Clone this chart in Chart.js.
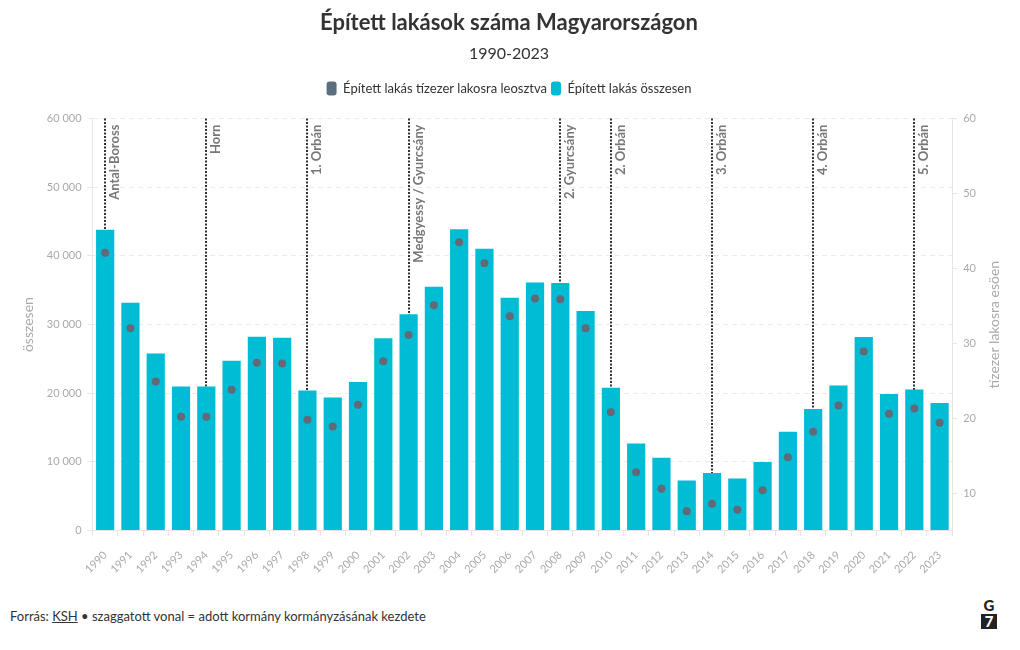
<!DOCTYPE html>
<html>
<head>
<meta charset="utf-8">
<script src="https://cdn.jsdelivr.net/npm/chart.js@4.4.1/dist/chart.umd.min.js"></script>
<style>
	body { margin: 0; background: #fff; font-family: Lato, 'Noto Sans', sans-serif; }
	#wrap { position: relative; width: 1020px; height: 650px; }
	#chartBox { position: absolute; left: 0; top: 0; width: 1020px; height: 592px; }
	.footer { position: absolute; left: 10px; top: 608px; font-size: 13px; color: #333; }
	.footer u { text-decoration: underline; }
	.logo { position: absolute; left: 981px; top: 598px; width: 16px; text-align: center; font: 900 15px Lato, sans-serif; color: #222; line-height: 15px; }
	.logo span { display: block; background: #222; color: #fff; margin-top: 1px; }
</style>
</head>
<body>
<div id="wrap">
	<div id="chartBox"><canvas id="lakasChart"></canvas></div>
	<div class="footer">Forrás: <u>KSH</u> • szaggatott vonal = adott kormány kormányzásának kezdete</div>
	<div class="logo">G<span>7</span></div>
</div>
<script>
	'use strict';

	// Years on the x axis
	const years = ['1990', '1991', '1992', '1993', '1994', '1995', '1996', '1997', '1998', '1999',
		'2000', '2001', '2002', '2003', '2004', '2005', '2006', '2007', '2008', '2009',
		'2010', '2011', '2012', '2013', '2014', '2015', '2016', '2017', '2018', '2019',
		'2020', '2021', '2022', '2023'];

	// Built dwellings, total (left axis)
	const totalBuilt = [43800, 33200, 25800, 21000, 21000, 24750, 28250, 28100, 20400, 19400,
		21650, 28000, 31500, 35500, 43900, 41050, 33900, 36150, 36050, 32000,
		20800, 12700, 10600, 7300, 8400, 7600, 10000, 14400, 17700, 21150,
		28200, 19900, 20550, 18600];

	// Built dwellings per 10 000 inhabitants (right axis)
	const perTenThousand = [42.1, 32.0, 24.9, 20.2, 20.2, 23.8, 27.4, 27.3, 19.8, 18.9,
		21.8, 27.6, 31.1, 35.1, 43.5, 40.7, 33.6, 36.0, 35.9, 32.0,
		20.8, 12.8, 10.6, 7.6, 8.6, 7.8, 10.4, 14.8, 18.2, 21.7,
		28.9, 20.6, 21.3, 19.4];

	// Start of each government
	const govYears = ['1990', '1994', '1998', '2002', '2008', '2010', '2014', '2018', '2022'];
	const govNames = ['Antal-Boross', 'Horn', '1. Orbán', 'Medgyessy / Gyurcsány', '2. Gyurcsány',
		'2. Orbán', '3. Orbán', '4. Orbán', '5. Orbán'];

	// Right axis tick values
	const rightTicks = [10, 20, 30, 40, 50, 60];
	const rightTitle = 'tízezer lakosra esöen';

	const FONT = "Lato, 'Noto Sans', sans-serif";

	// dotted lines + rotated labels for government changes
	const govLines = {
		id: 'govLines',
		beforeDatasetsDraw: function(chart) {
			const ctx = chart.ctx;
			const area = chart.chartArea;
			const xScale = chart.scales.x;
			ctx.save();
			govYears.forEach(function(y, i) {
				const x = Math.round(xScale.getPixelForValue(years.indexOf(y)));
				ctx.strokeStyle = '#333';
				ctx.lineWidth = 2;
				ctx.setLineDash([2, 1.5]);
				ctx.beginPath();
				ctx.moveTo(x, area.top);
				ctx.lineTo(x, area.bottom);
				ctx.stroke();

				ctx.save();
				ctx.translate(x + 3, area.top + 6);
				ctx.rotate(-Math.PI / 2);
				ctx.font = 'bold 13px ' + FONT;
				ctx.fillStyle = '#777';
				ctx.textAlign = 'right';
				ctx.textBaseline = 'top';
				ctx.fillText(govNames[i], 0, 0);
				ctx.restore();
			});
			ctx.restore();
		}
	};

	// right axis title reading bottom-to-top, like the left one
	const rightAxisTitle = {
		id: 'rightAxisTitle',
		afterDraw: function(chart) {
			const ctx = chart.ctx;
			const area = chart.chartArea;
			const axis = chart.scales.y1;
			ctx.save();
			ctx.translate(axis.right + 12, (area.top + area.bottom) / 2);
			ctx.rotate(-Math.PI / 2);
			ctx.font = '14px ' + FONT;
			ctx.fillStyle = '#aaa';
			ctx.textAlign = 'center';
			ctx.textBaseline = 'middle';
			ctx.fillText(rightTitle, 0, 0);
			ctx.restore();
		}
	};

	// extra room under the legend, and centre the header on the full canvas
	const headerTweaks = {
		id: 'headerTweaks',
		beforeInit: function(chart) {
			const origFit = chart.legend.fit;
			chart.legend.fit = function() {
				origFit.bind(chart.legend)();
				this.height += 13;
			};
		},
		afterLayout: function(chart) {
			chart.boxes.forEach(function(b) {
				if (b.position === 'top') {
					b.left += 10;
					b.right += 10;
				}
			});
		}
	};

	function spaced(v) {
		return String(v).replace(/\B(?=(\d{3})+(?!\d))/g, ' ');
	}

	new Chart(document.getElementById('lakasChart'), {
		type: 'bar',
		data: {
			labels: years,
			datasets: [{
				type: 'line',
				label: 'Épített lakás tízezer lakosra leosztva',
				data: perTenThousand,
				yAxisID: 'y1',
				showLine: false,
				backgroundColor: '#5b6e7e',
				borderColor: '#5b6e7e',
				borderWidth: 0,
				pointBackgroundColor: '#626a78',
				pointBorderWidth: 0,
				pointRadius: 4,
				order: 0
			}, {
				label: 'Épített lakás összesen',
				data: totalBuilt,
				yAxisID: 'y',
				backgroundColor: '#00bcd4',
				borderWidth: 0,
				barPercentage: 0.72,
				categoryPercentage: 1.0,
				order: 1
			}]
		},
		options: {
			responsive: true,
			maintainAspectRatio: false,
			animation: false,
			layout: { padding: { left: 16, right: 38, bottom: 4, top: 0 } },
			plugins: {
				title: {
					display: true,
					text: 'Épített lakások száma Magyarországon',
					color: '#333',
					font: { family: FONT, size: 22, weight: 'bold' },
					padding: { top: 10, bottom: 8 }
				},
				subtitle: {
					display: true,
					text: '1990-2023',
					color: '#333',
					font: { family: FONT, size: 16 },
					padding: { bottom: 14 }
				},
				legend: {
					labels: {
						color: '#333',
						font: { family: FONT, size: 13 },
						boxWidth: 10,
						boxHeight: 14,
						useBorderRadius: true,
						borderRadius: 3,
						padding: 4
					}
				},
				tooltip: { enabled: false }
			},
			scales: {
				x: {
					grid: { drawOnChartArea: false, drawTicks: true, tickLength: 6, color: '#e6e6e6' },
					border: { color: '#e6e6e6' },
					ticks: {
						color: '#aaa',
						font: { family: FONT, size: 11 },
						minRotation: 45,
						maxRotation: 45,
						padding: 12
					}
				},
				y: {
					position: 'left',
					min: 0,
					max: 60000,
					grid: { color: '#ebebeb', tickLength: 5, tickColor: '#e6e6e6' },
					border: { dash: [5, 4], color: '#e6e6e6' },
					ticks: {
						stepSize: 10000,
						color: '#aaa',
						font: { family: FONT, size: 11 },
						padding: 6,
						callback: function(v) { return spaced(v); }
					},
					title: {
						display: true,
						text: 'összesen',
						color: '#aaa',
						font: { family: FONT, size: 14 }
					}
				},
				y1: {
					position: 'right',
					min: 5,
					max: 60,
					grid: { drawOnChartArea: false, tickLength: 5, color: '#e6e6e6' },
					border: { color: '#e6e6e6' },
					afterBuildTicks: function(axis) {
						axis.ticks = rightTicks.map(function(v) { return { value: v }; });
					},
					ticks: {
						color: '#aaa',
						font: { family: FONT, size: 11 },
						padding: 6
					}
				}
			}
		},
		plugins: [govLines, rightAxisTitle, headerTweaks]
	});
</script>
</body>
</html>
